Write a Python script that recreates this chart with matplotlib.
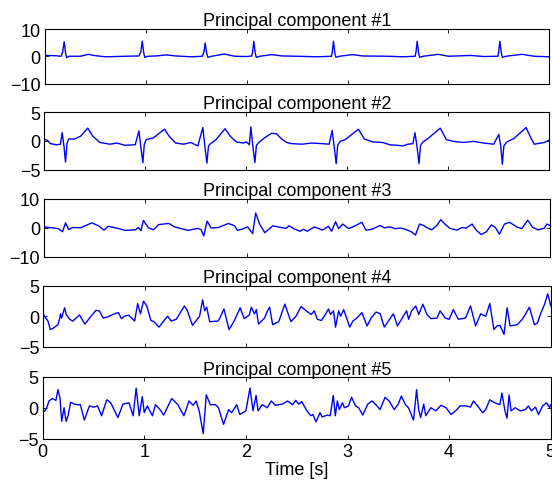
import matplotlib
matplotlib.use('Agg')
from matplotlib import pyplot as plt
import numpy as np

plt.rcParams['font.family'] = ['Liberation Sans', 'DejaVu Sans']
plt.rcParams['axes.unicode_minus'] = True

# principal components sampled by hand (time in s, amplitude)
pc1_t = [0.0, 0.1, 0.16, 0.175, 0.19, 0.205, 0.215, 0.24, 0.35, 0.43, 0.5, 0.6, 0.8,
         0.93, 0.95, 0.964, 0.98, 0.99, 1.02, 1.1, 1.2, 1.3, 1.45,
         1.56, 1.575, 1.588, 1.603, 1.615, 1.65, 1.78, 1.88, 2.0,
         2.05, 2.058, 2.07, 2.085, 2.095, 2.13, 2.25, 2.35, 2.5, 2.7,
         2.84, 2.848, 2.86, 2.874, 2.885, 2.92, 3.05, 3.15, 3.4, 3.55,
         3.67, 3.678, 3.69, 3.705, 3.715, 3.75, 3.9, 4.0, 4.22, 4.35,
         4.49, 4.498, 4.51, 4.525, 4.535, 4.57, 4.73, 4.85, 5.0]
pc1_v = [0.3, 0.2, 0.0, 1.5, 5.3, 1.0, -0.5, 0.0, 0.0, 0.7, 0.2, -0.2, 0.0,
         0.1, 1.5, 5.5, 1.0, -0.4, 0.0, 0.1, 0.5, 0.1, -0.2,
         0.0, 1.5, 4.9, 1.0, -0.4, 0.0, 0.8, 0.0, -0.1,
         0.1, 1.5, 5.5, 1.0, -0.4, 0.0, 0.6, 0.1, 0.0, -0.2,
         0.0, 1.5, 5.5, 1.0, -0.4, 0.0, 0.6, 0.1, 0.0, -0.2,
         0.0, 1.5, 5.5, 1.0, -0.4, 0.0, 0.7, 0.0, 0.3, -0.1,
         0.0, 1.5, 5.5, 1.0, -0.4, 0.0, 0.7, 0.0, -0.2]

pc2_t = [0.0, 0.03, 0.06, 0.12, 0.16, 0.177, 0.195, 0.21, 0.225, 0.24, 0.3, 0.36, 0.43,
         0.48, 0.55, 0.65, 0.72, 0.8, 0.9, 0.937, 0.955, 0.976, 0.99, 1.01, 1.08,
         1.19, 1.24, 1.3, 1.38, 1.45, 1.52, 1.57, 1.59, 1.61, 1.625, 1.64, 1.7,
         1.79, 1.84, 1.9, 1.97, 2.0, 2.03, 2.045, 2.065, 2.085, 2.1, 2.13, 2.18,
         2.25, 2.3, 2.35, 2.4, 2.45, 2.55, 2.65, 2.75, 2.82, 2.85, 2.87, 2.89,
         2.905, 2.93, 2.98, 3.11, 3.17, 3.25, 3.35, 3.42, 3.5, 3.55, 3.6, 3.65,
         3.67, 3.69, 3.71, 3.725, 3.75, 3.8, 3.92, 3.98, 4.05, 4.15, 4.25, 4.35,
         4.45, 4.5, 4.52, 4.535, 4.55, 4.58, 4.65, 4.77, 4.82, 4.85, 4.95, 5.0]
pc2_v = [0.2, 0.1, -0.5, -0.7, -0.6, 1.4, -1.0, -3.7, -0.5, 0.3, 0.3, 0.8, 2.2,
         0.8, -0.3, -0.6, -0.4, -0.8, -0.7, 1.7, -1.0, -3.8, -0.6, 0.2, 0.5,
         2.0, 0.7, -0.4, -0.6, -0.3, -0.9, 2.3, -1.0, -3.9, -1.0, -0.6, 0.2,
         2.1, 0.8, -0.2, -0.4, -0.2, -0.7, 2.4, -1.0, -3.8, -0.8, -0.2, 0.5,
         1.3, 1.2, 0.3, -0.3, -0.5, -0.6, -0.4, -0.5, -0.6, 1.8, -1.0, -4.0,
         -0.8, -0.1, 0.2, 2.0, 0.3, -0.2, -0.3, -0.7, -0.8, -0.9, -0.6, -0.5,
         1.4, -1.0, -4.0, -0.8, -0.2, 0.4, 2.2, 0.2, -0.1, -0.3, -0.1, -0.4,
         -0.6, 1.1, -1.0, -4.1, -0.9, -0.2, 0.4, 2.3, 0.4, -0.6, -0.3, 0.1]

pc3_t = [0.0, 0.14, 0.18, 0.21, 0.24, 0.28, 0.36, 0.47, 0.54, 0.59, 0.63, 0.73, 0.8,
         0.9, 0.93, 0.955, 0.98, 1.03, 1.08, 1.13, 1.23, 1.29, 1.42, 1.52, 1.55,
         1.576, 1.61, 1.65, 1.72, 1.82, 1.88, 1.91, 1.96, 2.01, 2.06, 2.09, 2.13,
         2.18, 2.26, 2.34, 2.39, 2.42, 2.47, 2.53, 2.56, 2.6, 2.67, 2.75, 2.81,
         2.84, 2.88, 2.91, 2.95, 3.01, 3.08, 3.14, 3.18, 3.24, 3.32, 3.36, 3.42,
         3.47, 3.52, 3.57, 3.63, 3.67, 3.71, 3.75, 3.78, 3.83, 3.88, 3.92, 3.96,
         4.01, 4.08, 4.13, 4.17, 4.23, 4.27, 4.32, 4.37, 4.42, 4.46, 4.5, 4.55,
         4.6, 4.67, 4.72, 4.78, 4.83, 4.88, 4.94, 4.97, 5.0]
pc3_v = [0.2, -0.4, -1.5, 1.6, -0.7, 0.0, -0.1, 1.6, 0.5, -0.9, 0.4, -0.3, -1.0,
         -0.8, 0.0, -1.1, 2.4, -0.1, -0.8, 1.0, 1.4, 0.2, -1.0, -0.3, -0.7,
         -2.9, 2.2, -0.2, 0.0, 1.4, 0.6, -1.0, -0.5, 0.2, -2.1, 5.0, 1.1,
         -1.8, 0.6, 0.0, -0.3, 0.6, -0.5, -1.3, -0.6, -1.3, 0.2, -0.9, 0.4,
         -1.3, 2.0, -0.4, 1.2, -0.4, 0.7, 1.8, -0.9, -0.6, 0.7, -0.1, 0.2,
         -0.4, -0.2, -0.6, -1.5, -2.6, 1.2, 0.7, 0.0, -0.8, 0.7, 2.7, 1.2,
         -0.3, -0.9, 0.0, -0.2, 1.2, -0.9, -2.4, -1.5, 0.9, 0.0, -2.3, 1.2,
         1.8, 0.2, -0.4, 2.5, 0.0, -0.8, -0.3, 1.2, 0.7]

pc4_t = [0.0, 0.046, 0.069, 0.095, 0.144, 0.16, 0.17, 0.18, 0.21, 0.226, 0.26, 0.29,
         0.357, 0.41, 0.47, 0.52, 0.554, 0.59, 0.636, 0.7, 0.74, 0.77, 0.8, 0.84,
         0.9, 0.93, 0.957, 0.987, 1.02, 1.06, 1.09, 1.14, 1.19, 1.226, 1.26, 1.31,
         1.39, 1.42, 1.47, 1.54, 1.57, 1.59, 1.61, 1.64, 1.72, 1.74, 1.78, 1.83,
         1.88, 1.94, 1.98, 2.03, 2.05, 2.08, 2.1, 2.12, 2.18, 2.21, 2.23, 2.26,
         2.32, 2.38, 2.44, 2.49, 2.54, 2.59, 2.64, 2.67, 2.7, 2.74, 2.78, 2.81,
         2.83, 2.86, 2.88, 2.91, 2.93, 2.96, 3.0, 3.02, 3.05, 3.09, 3.14, 3.19,
         3.23, 3.28, 3.32, 3.36, 3.4, 3.45, 3.49, 3.53, 3.58, 3.6, 3.63, 3.67,
         3.7, 3.74, 3.78, 3.82, 3.88, 3.91, 3.96, 4.0, 4.04, 4.09, 4.16, 4.21,
         4.26, 4.31, 4.36, 4.4, 4.44, 4.47, 4.5, 4.54, 4.57, 4.6, 4.67, 4.72,
         4.75, 4.79, 4.84, 4.87, 4.9, 4.94, 4.97, 4.99, 5.0]
pc4_v = [0.3, -0.8, -2.2, -2.0, -1.4, -0.5, 0.4, -0.3, 1.4, 0.3, -0.5, -0.8,
         0.2, -1.3, 0.0, 1.0, 0.85, -0.3, -0.1, 0.4, 0.6, -0.4, 0.0, 0.2,
         -0.8, 2.1, 0.4, 2.5, 1.7, -0.7, -0.9, -1.8, -0.7, 0.0, -0.8, -0.5,
         1.7, 0.9, -1.5, 0.0, 2.7, 0.9, 1.5, -0.9, -0.8, -0.3, 1.2, -2.2,
         -0.8, 1.4, -0.4, 0.2, 1.5, 0.4, 1.1, -1.3, -0.3, 0.9, 1.5, -1.4,
         -0.9, 2.0, -0.9, 0.0, 1.6, 0.9, 0.3, 0.9, -0.5, -0.7, 0.3, 1.2,
         0.3, 0.9, -1.8, 0.9, 0.0, 1.1, -0.8, -1.8, -0.8, -0.3, 0.6, -1.6,
         -0.3, 0.7, 0.4, -1.8, -0.8, 0.4, -1.6, -0.5, 0.9, -0.5, 0.9, 1.7,
         0.3, 2.0, 0.3, -0.4, -0.3, 0.9, -0.3, -0.5, 1.1, -0.5, -0.3, 1.7,
         -1.6, 0.4, 0.0, 2.1, -2.2, -1.6, -1.5, -3.0, 1.4, -1.6, -1.4, -0.5,
         0.3, 1.5, -1.4, -1.1, 0.4, 2.0, 3.7, 2.5, 1.7]

pc5_t = [0.0, 0.02, 0.04, 0.062, 0.095, 0.13, 0.15, 0.17, 0.187, 0.21, 0.23, 0.25,
         0.275, 0.31, 0.34, 0.37, 0.41, 0.46, 0.5, 0.54, 0.58, 0.63, 0.67, 0.74,
         0.79, 0.85, 0.89, 0.92, 0.95, 0.98, 1.0, 1.03, 1.08, 1.11, 1.16, 1.19,
         1.27, 1.33, 1.39, 1.44, 1.48, 1.51, 1.54, 1.58, 1.61, 1.65, 1.7, 1.73,
         1.78, 1.83, 1.86, 1.91, 1.94, 2.0, 2.04, 2.07, 2.1, 2.12, 2.16, 2.21,
         2.25, 2.29, 2.36, 2.41, 2.46, 2.49, 2.52, 2.55, 2.6, 2.64, 2.66, 2.69,
         2.73, 2.75, 2.8, 2.83, 2.86, 2.88, 2.9, 2.92, 2.95, 2.97, 3.01, 3.04,
         3.08, 3.11, 3.15, 3.2, 3.24, 3.28, 3.32, 3.37, 3.41, 3.46, 3.5, 3.53,
         3.57, 3.6, 3.65, 3.68, 3.7, 3.72, 3.75, 3.77, 3.82, 3.87, 3.92, 3.97,
         4.02, 4.07, 4.11, 4.17, 4.21, 4.24, 4.28, 4.33, 4.36, 4.4, 4.45, 4.5,
         4.52, 4.55, 4.57, 4.59, 4.61, 4.65, 4.7, 4.75, 4.78, 4.81, 4.85, 4.88,
         4.92, 4.96, 4.99, 5.0]
pc5_v = [-0.3, -0.55, 0.0, 1.1, 1.5, 1.2, 2.95, 1.6, -2.2, 0.0, -2.2, -1.3,
         0.9, 0.6, 0.5, 0.5, -2.0, 0.3, 0.1, 0.3, -1.3, 1.3, 0.8, -1.6,
         0.6, 0.8, -1.3, 3.2, -1.3, 1.8, -0.8, 0.3, -1.3, 0.5, -0.4, -1.2,
         1.5, 0.5, -1.3, 1.1, 0.4, 1.1, -0.5, -4.2, 2.1, 0.5, 0.5, 0.0,
         -2.7, -0.3, -0.8, 0.5, -1.1, -0.5, 3.2, -0.5, 2.0, -0.5, 0.5, 0.0,
         1.1, 0.4, 0.6, 1.1, 0.5, 1.2, 0.6, 1.0, -0.5, -1.3, -1.1, -2.3,
         -0.8, -1.5, -1.2, -1.3, 2.0, -1.3, 1.1, -0.3, 0.8, 0.0, 0.3, 1.7,
         0.3, 0.0, -1.2, 0.6, 1.1, 0.5, -0.3, 1.7, 1.1, -0.3, 0.6, 1.9,
         0.5, 0.0, -2.0, 2.95, -0.3, -1.6, 0.6, -1.3, 0.0, -0.5, 0.4, 0.0,
         -1.1, -0.4, 0.3, 0.3, 0.1, 1.1, 0.3, -0.8, -0.3, 1.3, 0.8, 0.5,
         2.4, -0.5, -1.7, 2.1, -0.5, 0.0, -0.5, -0.3, 0.3, -0.5, 0.1, -1.1,
         0.3, 0.8, 0.0, 0.5]

series = [(pc1_t, pc1_v), (pc2_t, pc2_v), (pc3_t, pc3_v), (pc4_t, pc4_v), (pc5_t, pc5_v)]
ylims = [10, 5, 10, 5, 5]
titles = ['Principal component #%d' % (i + 1) for i in range(5)]
xticks = [0, 1, 2, 3, 4, 5]

# axes boxes in pixels: left, right, top, bottom
W, H = 552., 489.
boxes = [(45.0, 549.3, 30.0, 84.5),
         (44.3, 549.3, 113.0, 170.5),
         (44.3, 550.0, 199.5, 257.5),
         (43.3, 550.7, 287.0, 347.5),
         (42.7, 550.7, 378.0, 439.5)]

plt.close('all')
fig = plt.figure(figsize=(W / 100., H / 100.), dpi=100)

for i, ((t, v), lim, title, box) in enumerate(zip(series, ylims, titles, boxes)):
    l, r, top, bot = box
    ax = fig.add_axes([l / W, 1 - bot / H, (r - l) / W, (bot - top) / H])
    ax.plot(t, v, color='b', lw=1.0)
    ax.set_xlim(0, 5)
    ax.set_ylim(-lim, lim)
    ax.set_yticks([-lim, 0, lim])
    ax.set_xticks(xticks)
    ax.tick_params(direction='in', top=True, right=True, length=3, width=0.6,
                   labelsize=13, pad=3)
    for s in ax.spines.values():
        s.set_linewidth(0.8)
    if i < 4:
        ax.set_xticklabels([])
    else:
        ax.set_xlabel('Time [s]', fontsize=13, labelpad=1)
    ax.set_title(title, fontsize=13, pad=2)

fig.savefig('out.png', dpi=100)
